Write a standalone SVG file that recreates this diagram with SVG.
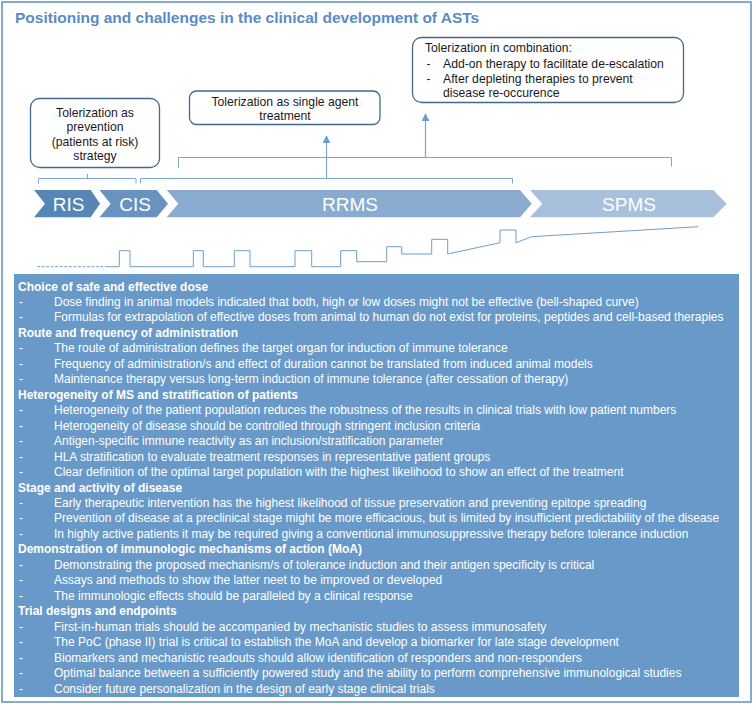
<svg xmlns="http://www.w3.org/2000/svg" width="756" height="710" viewBox="0 0 756 710">
<style>
text{font-family:"Liberation Sans",Arial,sans-serif}
.title{font-size:15.5px;font-weight:bold;fill:#5b8bc4}
.box{fill:#fff;stroke:#44688c;stroke-width:1.3}
.bt{font-size:12.2px;fill:#1a1a1a}
.br{fill:none;stroke:#7ea7d0;stroke-width:1}
.ar{fill:none;stroke:#7ea7d0;stroke-width:1.2}
.chev{font-size:19px;fill:#fff;text-anchor:middle}
.course{fill:none;stroke:#6e9ecd;stroke-width:1}
.tx{font-size:12px;fill:#fff}
.h{font-weight:bold}
</style>
<defs>
<marker id="ah" viewBox="0 0 10 10" refX="9" refY="5" markerWidth="8" markerHeight="8" markerUnits="userSpaceOnUse" orient="auto">
<path d="M0,0 L10,5 L0,10 z" fill="#6e9ecd"/>
</marker>
</defs>
<rect x="2" y="2" width="749" height="700" fill="#fff" stroke="#5d8fc4" stroke-width="1.5"/>
<text class="title" x="15" y="23">Positioning and challenges in the clinical development of ASTs</text>

<g id="box-prevention">
<rect class="box" x="30.5" y="98.5" width="129" height="69" rx="9"/>
<text class="bt" text-anchor="middle"><tspan x="95" y="117">Tolerization as</tspan><tspan x="95" y="131">prevention</tspan><tspan x="95" y="145.5">(patients at risk)</tspan><tspan x="95" y="159.5">strategy</tspan></text>
</g>
<g id="box-single">
<rect class="box" x="189.5" y="91" width="190.5" height="33.5" rx="7"/>
<text class="bt" text-anchor="middle"><tspan x="285" y="106">Tolerization as single agent</tspan><tspan x="285" y="120">treatment</tspan></text>
</g>
<g id="box-combination">
<rect class="box" x="412.5" y="37.5" width="271" height="65" rx="9"/>
<text class="bt"><tspan x="425" y="51.5">Tolerization in combination:</tspan><tspan x="426.5" y="67.5">-</tspan><tspan x="443" y="67.5">Add-on therapy to facilitate de-escalation</tspan><tspan x="426.5" y="82.5">-</tspan><tspan x="443" y="82.5">After depleting therapies to prevent</tspan><tspan x="443" y="97">disease re-occurence</tspan></text>
</g>

<g id="connectors">
<path class="br" d="M38.5,183.5 V178.5 H136 V183.5 M87.5,178.5 V174"/>
<path class="br" d="M140.5,183.5 V178.5 H512.5 V183.5"/>
<path class="br" d="M178.5,168 V157.5 H671.5 V166.5"/>
<path class="ar" d="M326.5,178.5 V136" marker-end="url(#ah)"/>
<path class="ar" d="M425.5,157.5 V114" marker-end="url(#ah)"/>
</g>

<g id="stage-ris">
<path d="M34,190 H90.7 L100,203.7 L90.7,217.3 H34 L45,203.7 Z" fill="#5686b6"/>
<text class="chev" x="68.5" y="210.5">RIS</text>
</g>
<g id="stage-cis">
<path d="M99.5,190 H156.7 L168,203.7 L156.7,217.3 H99.5 L110.7,203.7 Z" fill="#6893c0"/>
<text class="chev" x="135" y="210.5">CIS</text>
</g>
<g id="stage-rrms">
<path d="M166.7,190 H520 L531.7,203.7 L520,217.3 H166.7 L178.3,203.7 Z" fill="#89abcf"/>
<text class="chev" x="350" y="210.5">RRMS</text>
</g>
<g id="stage-spms">
<path d="M530,190 H713.3 L726.7,203.7 L713.3,217.3 H530 L542.3,203.7 Z" fill="#a7c1dc"/>
<text class="chev" x="629" y="210.5">SPMS</text>
</g>

<g id="disease-course">
<path class="course" d="M37.3,266.7 H106" stroke-dasharray="3,1.5"/>
<path class="course" d="M106,266.7 H119.3 V250.7 H130 V266.7 H193.3 V250.7 H203.3 V266.7 H234.3 V250.7 H250 V266.7 H295 V250.7 H311.7 V266.7 H340.7 V250.7 H356.7 V261.7 H386.7 V246.7 H401.7 V254 H431.7 V239.3 H447.7 V254 L500,242.7 V230 H516 V242.7 L531.7,236.7 L698.3,226.7"/>
</g>

<g id="challenges">
<rect x="14" y="274" width="725" height="423" fill="#6899c8"/>
<g class="tx">
<text class="h" x="18" y="290.5">Choice of safe and effective dose</text>
<text x="19" y="306">-</text><text x="54" y="306">Dose finding in animal models indicated that both, high or low doses might not be effective (bell-shaped curve)</text>
<text x="19" y="321.4">-</text><text x="54" y="321.4">Formulas for extrapolation of effective doses from animal to human do not exist for proteins, peptides and cell-based therapies</text>
<text class="h" x="18" y="336.9">Route and frequency of administration</text>
<text x="19" y="352.3">-</text><text x="54" y="352.3">The route of administration defines the target organ for induction of immune tolerance</text>
<text x="19" y="367.8">-</text><text x="54" y="367.8">Frequency of administration/s and effect of duration cannot be translated from induced animal models</text>
<text x="19" y="383.3">-</text><text x="54" y="383.3">Maintenance therapy versus long-term induction of immune tolerance (after cessation of therapy)</text>
<text class="h" x="18" y="398.7">Heterogeneity of MS and stratification of patients</text>
<text x="19" y="414.2">-</text><text x="54" y="414.2">Heterogeneity of the patient population reduces the robustness of the results in clinical trials with low patient numbers</text>
<text x="19" y="429.6">-</text><text x="54" y="429.6">Heterogeneity of disease should be controlled through stringent inclusion criteria</text>
<text x="19" y="445.1">-</text><text x="54" y="445.1">Antigen-specific immune reactivity as an inclusion/stratification parameter</text>
<text x="19" y="460.6">-</text><text x="54" y="460.6">HLA stratification to evaluate treatment responses in representative patient groups</text>
<text x="19" y="476">-</text><text x="54" y="476">Clear definition of the optimal target population with the highest likelihood to show an effect of the treatment</text>
<text class="h" x="18" y="491.5">Stage and activity of disease</text>
<text x="19" y="506.9">-</text><text x="54" y="506.9">Early therapeutic intervention has the highest likelihood of tissue preservation and preventing epitope spreading</text>
<text x="19" y="522.4">-</text><text x="54" y="522.4">Prevention of disease at a preclinical stage might be more efficacious, but is limited by insufficient predictability of the disease</text>
<text x="19" y="537.9">-</text><text x="54" y="537.9">In highly active patients it may be required giving a conventional immunosuppressive therapy before tolerance induction</text>
<text class="h" x="18" y="553.3">Demonstration of immunologic mechanisms of action (MoA)</text>
<text x="19" y="568.8">-</text><text x="54" y="568.8">Demonstrating the proposed mechanism/s of tolerance induction and their antigen specificity is critical</text>
<text x="19" y="584.2">-</text><text x="54" y="584.2">Assays and methods to show the latter neet to be improved or developed</text>
<text x="19" y="599.7">-</text><text x="54" y="599.7">The immunologic effects should be paralleled by a clinical response</text>
<text class="h" x="18" y="615.2">Trial designs and endpoints</text>
<text x="19" y="630.6">-</text><text x="54" y="630.6">First-in-human trials should be accompanied by mechanistic studies to assess immunosafety</text>
<text x="19" y="646.1">-</text><text x="54" y="646.1">The PoC (phase II) trial is critical to establish the MoA and develop a biomarker for late stage development</text>
<text x="19" y="661.5">-</text><text x="54" y="661.5">Biomarkers and mechanistic readouts should allow identification of responders and non-responders</text>
<text x="19" y="677">-</text><text x="54" y="677">Optimal balance between a sufficiently powered study and the ability to perform comprehensive immunological studies</text>
<text x="19" y="692.5">-</text><text x="54" y="692.5">Consider future personalization in the design of early stage clinical trials</text>
</g>
</g>
</svg>
